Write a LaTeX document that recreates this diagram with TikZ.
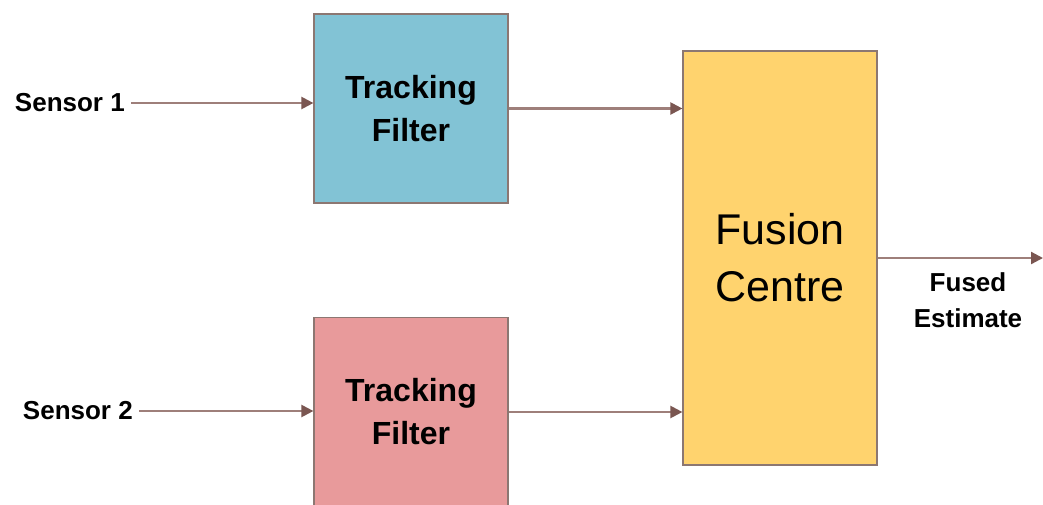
\documentclass[tikz,border=0pt]{standalone}
\usepackage{fontspec}
\setmainfont{Liberation Sans}
\usetikzlibrary{arrows.meta}
\definecolor{blueF}{HTML}{82C3D5}
\definecolor{redF}{HTML}{E89A9B}
\definecolor{yelF}{HTML}{FFD36E}
\definecolor{edgeC}{HTML}{8C7772}
\definecolor{lineC}{HTML}{9E7F7A}
\definecolor{headC}{HTML}{7A5651}
\tikzset{
  x=1pt, y=-1pt,
  box/.style={draw=edgeC, line width=1.2pt, inner sep=0pt, minimum width=194pt, align=center},
  tfbox/.style={box, minimum height=189pt, font=\bfseries\fontsize{32}{43}\selectfont},
  lbl/.style={font=\bfseries\fontsize{26}{36}\selectfont, inner sep=0pt, align=center},
  arr/.style={draw=lineC, line width=2.2pt, -{Triangle[length=12pt,width=12pt,fill=headC,color=headC]}}
}
\begin{document}
\begin{tikzpicture}
\useasboundingbox (0,0) rectangle (1043,504);
\clip (0,0) rectangle (1043,504);
\fill[white] (0,0) rectangle (1043,504);
\node[tfbox, fill=blueF] (tf1) at (411,108.5) {Tracking\\Filter};
\node[tfbox, fill=redF] (tf2) at (411,412) {Tracking\\Filter};
\node[box, fill=yelF, minimum height=414pt, font=\fontsize{43}{57}\selectfont] (fc) at (780,258) {Fusion\\Centre};
\node[lbl, anchor=east] (s1) at (125,103) {Sensor 1};
\node[lbl, anchor=east] (s2) at (133,411) {Sensor 2};
\node[lbl] (fe) at (968,300) {Fused\\Estimate};
\coordinate (out) at (1043,258);
\draw[arr] ([xshift=6pt]s1.east) -- (s1.east -| tf1.west);
\draw[arr] ([xshift=6pt]s2.east) -- (s2.east -| tf2.west);
\draw[arr] (tf1.east) -- (tf1.east -| fc.west);
\draw[arr] (tf2.east) -- (tf2.east -| fc.west);
\draw[arr] (fc.east) -- (out);
\end{tikzpicture}
\end{document}
